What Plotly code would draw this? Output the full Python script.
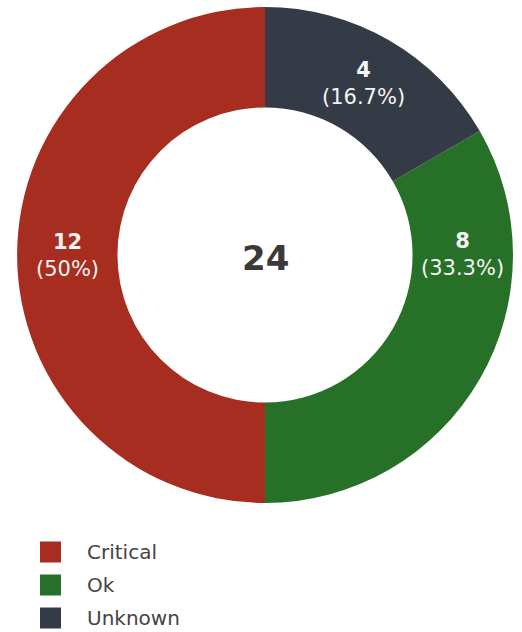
import math
import plotly.graph_objects as go

# Host status summary
statuses = ["Critical", "Ok", "Unknown"]
counts = [12, 8, 4]
status_colors = ["#a62d1f", "#267028", "#343a46"]

W, H = 522, 632
FONT = "DejaVu Sans, Verdana, sans-serif"

# donut geometry (pixels)
CX, CY = 265, 255
R_OUT = 248
HOLE = 0.595
R_MID = R_OUT * (1 + HOLE) / 2

# label angle overrides (degrees clockwise from 12 o'clock)
label_angle = {"Ok": 90}

total = sum(counts)

fig = go.Figure(
    go.Pie(
        labels=statuses,
        values=counts,
        hole=HOLE,
        sort=False,
        direction="counterclockwise",
        rotation=180,
        marker=dict(colors=status_colors, line=dict(width=0)),
        textinfo="none",
        hoverinfo="label+value+percent",
        showlegend=False,
        domain=dict(x=[(CX - R_OUT) / W, (CX + R_OUT) / W],
                    y=[1 - (CY + R_OUT) / H, 1 - (CY - R_OUT) / H]),
    )
)


def pct(v):
    p = round(v / total * 100, 1)
    return f"{p:g}%"


annotations = [
    dict(
        text=f"<b>{total}</b>",
        x=CX / W, y=1 - 258 / H, xref="paper", yref="paper",
        showarrow=False, xanchor="center", yanchor="middle",
        font=dict(family=FONT, size=34, color="#3a3a3a"),
    )
]

# slice labels: counterclockwise from top, Critical first
start = 0.0
for name, v in zip(statuses, counts):
    sweep = v / total * 360
    mid_ccw = start + sweep / 2
    ang = label_angle.get(name, 360 - mid_ccw)  # clockwise degrees from top
    start += sweep
    a = math.radians(ang)
    px = CX + R_MID * math.sin(a)
    py = CY - R_MID * math.cos(a)
    annotations.append(dict(
        text=f"<b>{v}</b><br>({pct(v)})",
        x=px / W, y=1 - py / H, xref="paper", yref="paper",
        showarrow=False, xanchor="center", yanchor="middle",
        font=dict(family=FONT, size=21, color="#f4f4f4"),
    ))

shapes = []

# Legend drawn as swatches + labels below the donut
for i, (name, col) in enumerate(zip(statuses, status_colors)):
    cy = 552 + 33 * i
    shapes.append(dict(
        type="rect", xref="paper", yref="paper",
        x0=40 / W, x1=61 / W, y0=1 - (cy + 10.5) / H, y1=1 - (cy - 10.5) / H,
        fillcolor=col, line=dict(width=0),
    ))
    annotations.append(dict(
        text=name, x=85 / W, y=1 - cy / H, xref="paper", yref="paper",
        showarrow=False, xanchor="left", yanchor="middle",
        font=dict(family=FONT, size=20, color="#444444"),
    ))

fig.update_layout(
    width=W, height=H,
    margin=dict(l=0, r=0, t=0, b=0),
    paper_bgcolor="white",
    plot_bgcolor="white",
    annotations=annotations,
    shapes=shapes,
)

fig.write_html("out.html")
